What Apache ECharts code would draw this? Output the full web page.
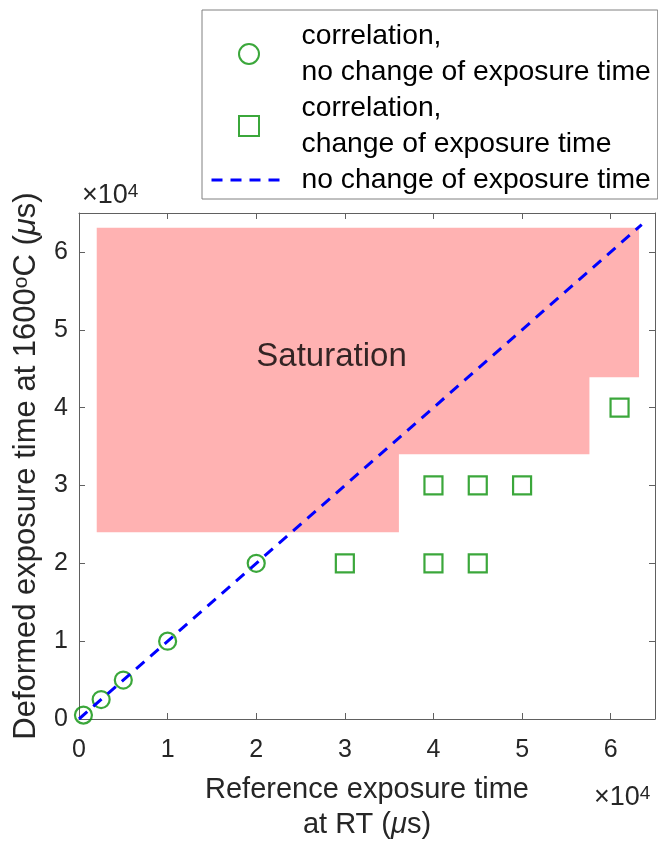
<!DOCTYPE html>
<html>
<head>
<meta charset="utf-8">
<script src="https://cdn.jsdelivr.net/npm/echarts@6/dist/echarts.min.js"></script>
<style>
html,body{margin:0;padding:0;background:#fff;}
#main{width:658px;height:847px;}
</style>
</head>
<body>
<div id="main"></div>
<script>
// ---- data ----
const circleX = [500, 2500, 5000, 10000, 20000];
const circleY = [500, 2500, 5000, 10000, 20000];
const squareX = [30000, 40000, 45000, 40000, 45000, 50000, 61000];
const squareY = [20000, 20000, 20000, 30000, 30000, 30000, 40000];
const lineX = [0, 63500];
const lineY = [0, 63500];
const satX = [2000, 63200, 63200, 57600, 57600, 36100, 36100, 2000];
const satY = [63100, 63100, 43900, 43900, 34000, 34000, 24000, 24000];
const satLabel = ['Saturation'];
const satLabelPos = [28500, 46500];
const tickValues = [0, 10000, 20000, 30000, 40000, 50000, 60000];
const tickLabels = ['0', '1', '2', '3', '4', '5', '6'];
const seriesNames = [
  'correlation,\nno change of exposure time',
  'correlation,\nchange of exposure time',
  'no change of exposure time'
];
const xName = 'Reference exposure time\nat RT ({it|μ}s)';
const yName = 'Deformed exposure time at 1600{sup|o}C ({it|μ}s)';
const expText = '×10{sup|4}';

// ---- style ----
const FONT = '"Liberation Sans", Arial, Helvetica, sans-serif';
const GREEN = 'rgb(10,145,10)';
const AXC = '#606060';
const TXT = '#262626';

function tickFmt(v) {
  const i = tickValues.indexOf(v);
  return i >= 0 ? tickLabels[i] : '';
}

const chart = echarts.init(document.getElementById('main'), null, {renderer: 'canvas'});

const commonAxis = {
  type: 'value', min: 0, max: 65000, interval: 10000,
  splitLine: {show: false},
  axisLine: {show: true, onZero: false, lineStyle: {color: AXC, width: 1}},
  axisTick: {show: true, inside: true, length: 6, lineStyle: {color: AXC, width: 1}}
};

const option = {
  animation: false,
  backgroundColor: '#fff',
  textStyle: {fontFamily: FONT},
  grid: {left: 79, right: 1, top: 213, bottom: 124, containLabel: false},
  legend: {
    orient: 'vertical',
    left: 202, top: 10,
    align: 'left',
    padding: [8, 7, 1, 8],
    itemWidth: 75, itemHeight: 20, itemGap: 0,
    borderColor: '#808080', borderWidth: 1,
    backgroundColor: '#fff',
    selectedMode: false,
    textStyle: {fontFamily: FONT, fontSize: 28.3, lineHeight: 36, color: '#000', padding: [0, 0, 0, 10]},
    data: [
      {name: seriesNames[0], icon: 'circle', itemStyle: {color: 'rgba(0,0,0,0)', borderColor: GREEN, borderWidth: 2}},
      {name: seriesNames[1], icon: 'path://M0,0L10,0L10,10L0,10Z', itemStyle: {color: 'rgba(0,0,0,0)', borderColor: GREEN, borderWidth: 2}},
      {name: seriesNames[2],
        itemStyle: {color: 'rgba(0,0,0,0)', borderColor: 'rgba(0,0,0,0)', borderWidth: 0, opacity: 0},
        lineStyle: {color: '#0000ff', width: 3, type: [11, 8]}}
    ]
  },
  xAxis: [
    Object.assign({}, commonAxis, {
      position: 'bottom',
      name: xName,
      nameLocation: 'middle',
      nameGap: 53,
      nameTextStyle: {fontFamily: FONT, fontSize: 29, lineHeight: 35, color: TXT,
        rich: {it: {fontFamily: FONT, fontSize: 29, fontStyle: 'italic', color: TXT}}},
      axisLabel: {formatter: tickFmt, fontFamily: FONT, fontSize: 25, color: TXT, margin: 19}
    }),
    Object.assign({}, commonAxis, {
      position: 'top',
      axisLabel: {show: false}
    })
  ],
  yAxis: [
    Object.assign({}, commonAxis, {
      position: 'left',
      name: yName,
      nameLocation: 'middle',
      nameRotate: 90,
      nameGap: 37,
      nameTextStyle: {fontFamily: FONT, fontSize: 31, color: TXT,
        rich: {
          sup: {fontFamily: FONT, fontSize: 21, color: TXT, verticalAlign: 'top'},
          it: {fontFamily: FONT, fontSize: 31, fontStyle: 'italic', color: TXT}
        }},
      axisLabel: {formatter: tickFmt, fontFamily: FONT, fontSize: 25, color: TXT, margin: 11}
    }),
    Object.assign({}, commonAxis, {
      position: 'right',
      axisLabel: {show: false}
    })
  ],
  graphic: [
    {type: 'text', left: 82, top: 182, z: 100,
      style: {text: expText, fontFamily: FONT, fontSize: 27, fill: TXT,
        rich: {sup: {fontFamily: FONT, fontSize: 19, fill: TXT, verticalAlign: 'top'}}}},
    {type: 'text', left: 594, top: 784, z: 100,
      style: {text: expText, fontFamily: FONT, fontSize: 27, fill: TXT,
        rich: {sup: {fontFamily: FONT, fontSize: 19, fill: TXT, verticalAlign: 'top'}}}}
  ],
  series: [
    {
      type: 'custom',
      name: 'saturation',
      z: 1,
      silent: true,
      data: [0],
      renderItem: function (params, api) {
        const pts = satX.map(function (x, i) { return api.coord([x, satY[i]]); });
        return {type: 'polygon', shape: {points: pts}, style: {fill: '#ffb2b2', stroke: null}};
      }
    },
    {
      type: 'scatter',
      name: 'satLabel',
      z: 2,
      symbolSize: 0,
      silent: true,
      data: [satLabelPos],
      label: {show: true, position: 'inside', formatter: satLabel[0], fontFamily: FONT, fontSize: 33, color: '#000'}
    },
    {
      type: 'scatter',
      name: seriesNames[0],
      z: 3,
      symbol: 'circle',
      symbolSize: 17,
      itemStyle: {color: 'rgba(0,0,0,0)', borderColor: GREEN, borderWidth: 2.2},
      data: circleX.map(function (x, i) { return [x, circleY[i]]; })
    },
    {
      type: 'scatter',
      name: seriesNames[1],
      z: 3,
      symbol: 'rect',
      symbolSize: 18,
      itemStyle: {color: 'rgba(0,0,0,0)', borderColor: GREEN, borderWidth: 2.2},
      data: squareX.map(function (x, i) { return [x, squareY[i]]; })
    },
    {
      type: 'line',
      name: seriesNames[2],
      z: 4,
      symbol: 'none',
      lineStyle: {color: '#0000ff', width: 3, type: [11, 8]},
      itemStyle: {color: '#0000ff'},
      data: lineX.map(function (x, i) { return [x, lineY[i]]; })
    }
  ]
};
chart.setOption(option);
</script>
</body>
</html>
